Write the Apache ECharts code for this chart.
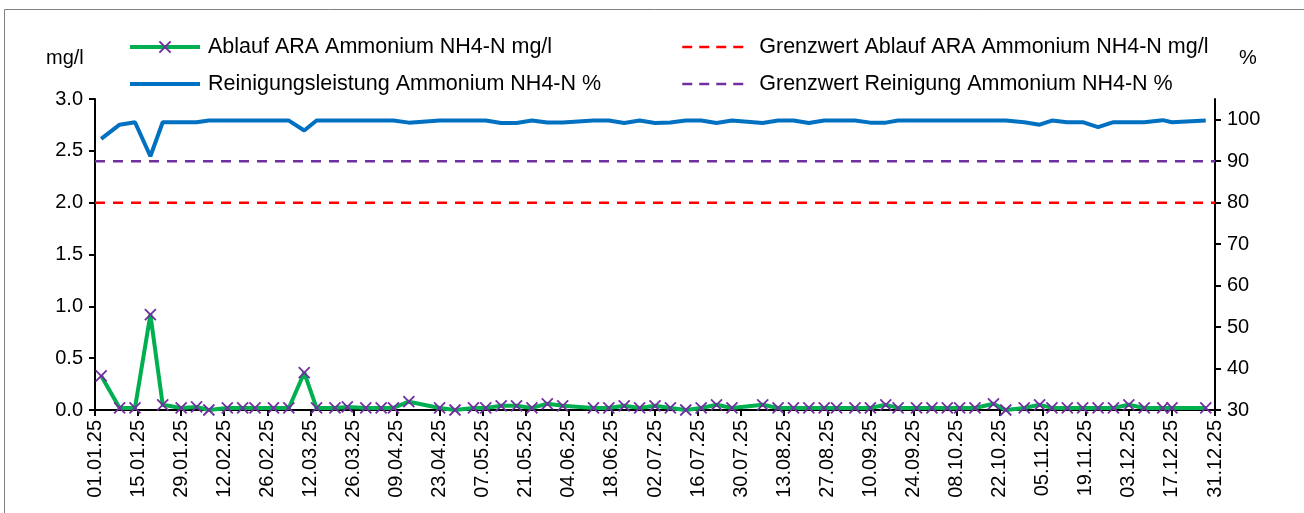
<!DOCTYPE html>
<html>
<head>
<meta charset="utf-8">
<script src="https://cdn.jsdelivr.net/npm/echarts@6/dist/echarts.min.js"></script>
<style>
html,body{margin:0;padding:0;background:#fff;}
#chart{width:1304px;height:513px;}
</style>
</head>
<body>
<div id="chart"></div>
<script>
// ---- data ----
const sampleDates = [
  '03.01.25','09.01.25','14.01.25','19.01.25','23.01.25','29.01.25','03.02.25','07.02.25','13.02.25','18.02.25','22.02.25','28.02.25',
  '05.03.25','10.03.25','14.03.25','20.03.25','24.03.25','30.03.25','04.04.25','08.04.25','13.04.25','23.04.25','28.04.25',
  '04.05.25','08.05.25','13.05.25','18.05.25','23.05.25','28.05.25','02.06.25','12.06.25','17.06.25','22.06.25','27.06.25',
  '02.07.25','07.07.25','12.07.25','17.07.25','22.07.25','27.07.25','06.08.25','11.08.25','16.08.25','21.08.25','26.08.25',
  '30.08.25','05.09.25','10.09.25','15.09.25','19.09.25','25.09.25','30.09.25','05.10.25','09.10.25','14.10.25','20.10.25',
  '24.10.25','30.10.25','04.11.25','08.11.25','13.11.25','18.11.25','23.11.25','28.11.25','03.12.25','08.12.25','14.12.25',
  '17.12.25','28.12.25'
];
const ablaufNH4 = [
  0.33,0.02,0.02,0.92,0.05,0.02,0.03,0.00,0.02,0.02,0.02,0.02,
  0.02,0.36,0.02,0.02,0.03,0.02,0.02,0.02,0.08,0.02,0.00,
  0.02,0.02,0.04,0.04,0.02,0.06,0.04,0.02,0.02,0.04,0.02,
  0.04,0.02,0.00,0.02,0.05,0.02,0.05,0.02,0.02,0.02,0.02,
  0.02,0.02,0.02,0.05,0.02,0.02,0.02,0.02,0.02,0.02,0.06,
  0.00,0.02,0.05,0.02,0.02,0.02,0.02,0.02,0.05,0.02,0.02,
  0.02,0.02
];
const reinigungNH4 = [
  95.4,98.8,99.4,91.2,99.4,99.4,99.4,99.8,99.8,99.8,99.8,99.8,
  99.8,97.4,99.8,99.8,99.8,99.8,99.8,99.8,99.3,99.8,99.8,
  99.8,99.8,99.2,99.2,99.8,99.35,99.35,99.8,99.8,99.2,99.8,
  99.2,99.35,99.8,99.8,99.2,99.8,99.2,99.8,99.8,99.2,99.8,
  99.8,99.8,99.3,99.3,99.8,99.8,99.8,99.8,99.8,99.8,99.8,
  99.8,99.4,98.8,99.8,99.4,99.4,98.2,99.4,99.4,99.4,99.9,
  99.4,99.8
];
const grenzAblauf = 2.0;      // mg/l
const grenzReinigung = 90;    // %
const rightTicks = [30, 40, 50, 60, 70, 80, 90, 100];
const seriesNames = [
  'Ablauf ARA Ammonium NH4-N mg/l',
  'Reinigungsleistung Ammonium NH4-N %',
  'Grenzwert Ablauf ARA Ammonium NH4-N mg/l',
  'Grenzwert Reinigung Ammonium NH4-N %'
];

// daily category axis 01.01.25 .. 31.12.25
const days = [];
for (let d = new Date(Date.UTC(2025,0,1)); d.getUTCFullYear() === 2025; d.setUTCDate(d.getUTCDate()+1)) {
  const dd = String(d.getUTCDate()).padStart(2,'0');
  const mm = String(d.getUTCMonth()+1).padStart(2,'0');
  days.push(dd + '.' + mm + '.25');
}
const firstDay = days[0], lastDay = days[days.length-1];

const FONT = 'Liberation Sans, Arial, sans-serif';
const chart = echarts.init(document.getElementById('chart'), null, {renderer:'canvas'});
const noSym = {color:'rgba(0,0,0,0)', borderWidth:0, opacity:0};

chart.setOption({
  backgroundColor:'#fff',
  animation:false,
  graphic:[
    {type:'rect', shape:{x:4.5,y:9.5,width:1400,height:600}, style:{fill:'none', stroke:'#808080', lineWidth:1}, silent:true},
    {type:'text', left:46, top:48, style:{text:'mg/l', fill:'#000', font:'20px ' + FONT}},
    {type:'text', left:1239, top:48, style:{text:'%', fill:'#000', font:'20px ' + FONT}}
  ],
  legend:[
    {left:128, top:36, orient:'vertical', padding:0, itemWidth:70, itemHeight:14, itemGap:15,
     textStyle:{color:'#000', fontFamily:FONT, fontSize:21.5, padding:[0,0,0,3]},
     data:[
       {name:seriesNames[0], lineStyle:{width:4, color:'#00B050'}},
       {name:seriesNames[1], itemStyle:noSym, lineStyle:{width:4, color:'#0070C0'}}
     ], selectedMode:false},
    {left:681, top:36, orient:'vertical', padding:0, itemWidth:64, itemHeight:14, itemGap:15,
     textStyle:{color:'#000', fontFamily:FONT, fontSize:21.5, padding:[0,0,0,8]},
     data:[
       {name:seriesNames[2], itemStyle:noSym, lineStyle:{width:2.5, color:'#FF0000', type:[10,7]}},
       {name:seriesNames[3], itemStyle:noSym, lineStyle:{width:2.5, color:'#7030A0', type:[10,7]}}
     ], selectedMode:false}
  ],
  grid:{left:95, right:89, top:99, bottom:103},
  xAxis:{
    type:'category', data:days, boundaryGap:false,
    axisLine:{lineStyle:{color:'#000', width:2}},
    axisTick:{interval:13, length:6, lineStyle:{color:'#000', width:2}},
    axisLabel:{interval:13, rotate:90, margin:10, color:'#000', fontFamily:FONT, fontSize:20}
  },
  yAxis:[
    {type:'value', min:0, max:3, interval:0.5, position:'left',
     splitLine:{show:false},
     axisLine:{show:true, lineStyle:{color:'#000', width:2}},
     axisTick:{show:true, length:6, lineStyle:{color:'#000', width:2}},
     axisLabel:{margin:12, color:'#000', fontFamily:FONT, fontSize:20, formatter:v=>v.toFixed(1)}},
    {type:'value', min:30, max:105, position:'right',
     splitLine:{show:false},
     axisLine:{show:true, lineStyle:{color:'#000', width:2}},
     axisTick:{show:true, length:6, customValues:rightTicks, lineStyle:{color:'#000', width:2}},
     axisLabel:{margin:12, color:'#000', fontFamily:FONT, fontSize:20, customValues:rightTicks}}
  ],
  series:[
    {name:seriesNames[1], type:'line', yAxisIndex:1, symbol:'none',
     lineStyle:{color:'#0070C0', width:4}, itemStyle:{color:'#0070C0'},
     data:sampleDates.map((d,i)=>[d, reinigungNH4[i]]), z:3},
    {name:seriesNames[2], type:'line', yAxisIndex:0, symbol:'none',
     lineStyle:{color:'#FF0000', width:2.5, type:[10,8]}, itemStyle:{color:'#FF0000'},
     data:[[firstDay, grenzAblauf],[lastDay, grenzAblauf]], z:2},
    {name:seriesNames[3], type:'line', yAxisIndex:1, symbol:'none',
     lineStyle:{color:'#7030A0', width:2.5, type:[10,8]}, itemStyle:{color:'#7030A0'},
     data:[[firstDay, grenzReinigung],[lastDay, grenzReinigung]], z:2},
    {name:seriesNames[0], type:'line', yAxisIndex:0,
     symbol:'path://M0,0L10,10M10,0L0,10', symbolSize:11, showAllSymbol:true,
     lineStyle:{color:'#00B050', width:4},
     itemStyle:{color:'#7030A0', borderColor:'#7030A0', borderWidth:1.8},
     data:sampleDates.map((d,i)=>[d, ablaufNH4[i]]), z:4}
  ]
});
</script>
</body>
</html>
